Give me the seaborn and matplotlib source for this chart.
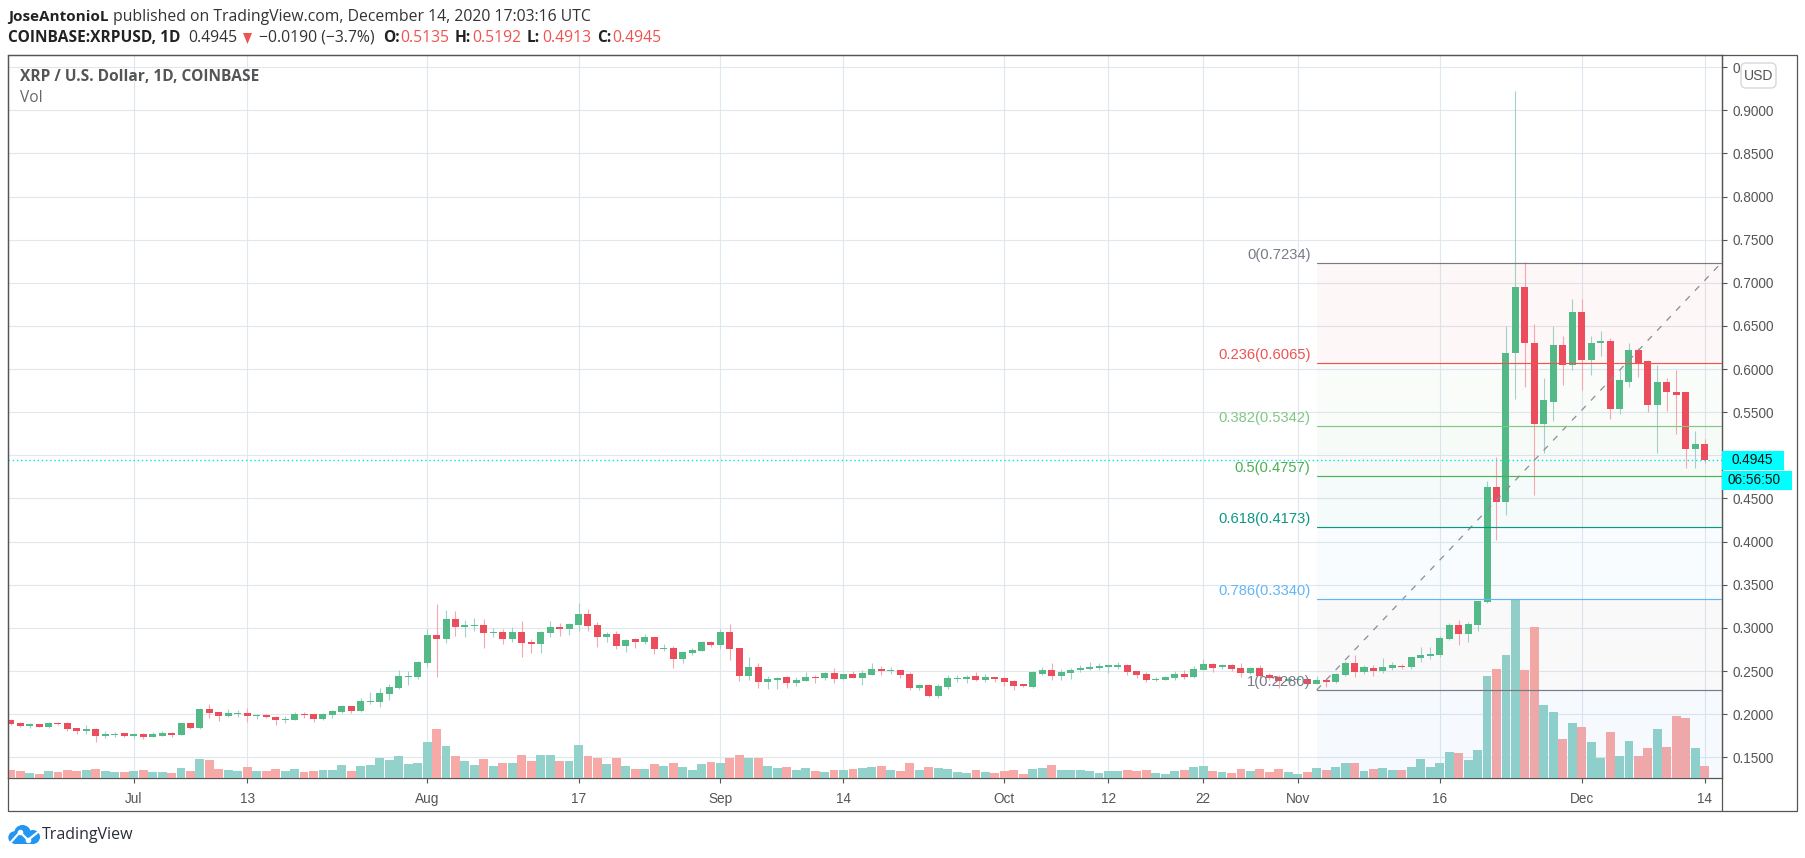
import matplotlib
matplotlib.use("Agg")
import matplotlib.dates as mdates
import matplotlib.pyplot as plt
import pandas as pd
import seaborn as sns
from matplotlib.patches import Circle, FancyBboxPatch, Polygon, Rectangle
from matplotlib.transforms import Affine2D

# daily candles, Jun 18 - Dec 14 2020, one row per month
opens = [
    .1933, .1898, .1863, .1886, .1852, .1898, .1898, .1840, .1805, .1828, .1747, .1759, .1782,
    .1747, .1770, .1736, .1747, .1782, .1759, .1898, .1840, .2060, .2026, .1979, .2002, .2014, .1979, .1991, .1968, .1933, .1933, .2002, .2002, .1944, .1991, .2026, .2095, .2037, .2141, .2141, .2234, .2304, .2431, .2431,
    .2594, .2918, .2872, .3104, .3011, .3022, .3034, .2941, .2953, .2872, .2953, .2837, .2814, .2941, .3011, .2988, .3034, .3162, .3034, .2895, .2930, .2791, .2872, .2837, .2895, .2756, .2767, .2640, .2709, .2733, .2837,
    .2802, .2953, .2767, .2443, .2547, .2373, .2396, .2431, .2362, .2385, .2431, .2420, .2478, .2408, .2466, .2420, .2454, .2520, .2497, .2508, .2462, .2300, .2335, .2207, .2311, .2404, .2404, .2439, .2393, .2427,
    .2416, .2381, .2346, .2311, .2462, .2508, .2439, .2474, .2508, .2520, .2532, .2543, .2543, .2566, .2497, .2462, .2393, .2393, .2416, .2462, .2427, .2508, .2578, .2543, .2566, .2532, .2474, .2532, .2451, .2427, .2381,
    .2393, .2404, .2346, .2396, .2373, .2454, .2594, .2489, .2536, .2501, .2536, .2559, .2547, .2651, .2675, .2686, .2872, .3034, .2930, .3034, .3301, .4634, .4460, .6181, .6957, .6308, .5369, .5624, .6274, .6053,
    .6656, .6111, .6297, .6320, .5532, .5856, .6227, .6088, .5578, .5845, .5740, .5729, .5068, .5135,
]
highs = [
    .1940, .1910, .1894, .1890, .1910, .1910, .1910, .1840, .1875, .1840, .1805, .1794, .1782,
    .1778, .1782, .1794, .1805, .1794, .1898, .1898, .2072, .2118, .2026, .2060, .2049, .2072, .1998, .1998, .1979, .1979, .2026, .2026, .2002, .2014, .2049, .2107, .2095, .2188, .2257, .2304, .2350, .2512, .2501, .2617,
    .2988, .3277, .3208, .3196, .3092, .3115, .3104, .2999, .2988, .3011, .3080, .2872, .2964, .3080, .3057, .3057, .3289, .3219, .3069, .2953, .2964, .2872, .2883, .2930, .2895, .2814, .2791, .2733, .2767, .2849, .2849,
    .2988, .3046, .2767, .2663, .2594, .2443, .2431, .2443, .2431, .2489, .2454, .2489, .2536, .2466, .2501, .2512, .2594, .2555, .2543, .2508, .2485, .2346, .2346, .2346, .2451, .2451, .2451, .2485, .2462, .2427,
    .2427, .2393, .2346, .2497, .2543, .2590, .2520, .2532, .2566, .2601, .2590, .2566, .2601, .2578, .2497, .2485, .2427, .2439, .2497, .2508, .2555, .2636, .2590, .2578, .2578, .2590, .2543, .2566, .2474, .2451, .2427,
    .2427, .2416, .2439, .2420, .2474, .2617, .2686, .2570, .2570, .2651, .2605, .2582, .2663, .2779, .2779, .2906, .3057, .3092, .3069, .3312, .4703, .4981, .6505, .9218, .7247, .6525, .5891, .6505, .6378, .6807,
    .6818, .6378, .6436, .6355, .5995, .6308, .6250, .6111, .6053, .5891, .5984, .5740, .5288, .5192,
]
lows = [
    .1880, .1856, .1844, .1848, .1844, .1875, .1809, .1770, .1770, .1678, .1724, .1740, .1736,
    .1724, .1713, .1736, .1747, .1736, .1759, .1828, .1828, .1956, .1921, .1968, .1968, .1910, .1944, .1956, .1875, .1898, .1933, .1956, .1910, .1933, .1956, .2014, .2014, .2026, .2118, .2083, .2165, .2292, .2338, .2408,
    .2547, .2431, .2825, .2906, .2895, .2964, .2767, .2895, .2814, .2837, .2663, .2709, .2709, .2895, .2906, .2918, .2964, .2964, .2779, .2837, .2756, .2721, .2767, .2814, .2698, .2733, .2536, .2594, .2686, .2733, .2779,
    .2756, .2628, .2385, .2396, .2304, .2292, .2292, .2304, .2327, .2385, .2362, .2396, .2362, .2396, .2420, .2338, .2454, .2451, .2462, .2416, .2277, .2277, .2196, .2184, .2288, .2369, .2358, .2381, .2369, .2369,
    .2323, .2277, .2311, .2300, .2451, .2393, .2393, .2404, .2485, .2508, .2508, .2474, .2520, .2451, .2416, .2369, .2381, .2393, .2393, .2404, .2416, .2508, .2485, .2520, .2497, .2427, .2462, .2427, .2393, .2300, .2369,
    .2381, .2335, .2346, .2315, .2362, .2443, .2431, .2466, .2443, .2478, .2512, .2524, .2524, .2605, .2640, .2663, .2860, .2802, .2837, .2964, .3289, .4019, .4309, .5648, .5798, .4541, .5029, .5393, .5821, .5995,
    .5752, .5926, .6146, .5416, .5474, .5798, .5903, .5497, .5033, .5509, .5253, .4848, .4859, .4913,
]
closes = [
    .1886, .1863, .1886, .1852, .1898, .1886, .1828, .1805, .1828, .1747, .1770, .1770, .1747,
    .1770, .1736, .1770, .1782, .1759, .1898, .1840, .2060, .2014, .1979, .2014, .2014, .1979, .1991, .1968, .1933, .1944, .2002, .1991, .1944, .2002, .2037, .2095, .2037, .2153, .2153, .2246, .2315, .2443, .2443, .2605,
    .2918, .2872, .3104, .3011, .3034, .3034, .2941, .2953, .2872, .2953, .2825, .2814, .2953, .3011, .2988, .3046, .3162, .3022, .2895, .2930, .2791, .2860, .2837, .2895, .2756, .2767, .2640, .2721, .2744, .2837, .2802,
    .2953, .2756, .2443, .2547, .2373, .2408, .2420, .2362, .2396, .2431, .2420, .2478, .2408, .2466, .2420, .2478, .2524, .2497, .2508, .2451, .2300, .2335, .2207, .2323, .2416, .2416, .2427, .2393, .2427, .2404,
    .2369, .2323, .2323, .2485, .2508, .2439, .2485, .2508, .2532, .2543, .2555, .2566, .2566, .2485, .2451, .2393, .2404, .2427, .2462, .2427, .2520, .2578, .2532, .2566, .2520, .2474, .2532, .2439, .2416, .2381, .2404,
    .2404, .2346, .2393, .2373, .2466, .2594, .2489, .2547, .2501, .2547, .2570, .2547, .2663, .2686, .2698, .2883, .3034, .2930, .3046, .3312, .4634, .4460, .6181, .6946, .6297, .5369, .5636, .6274, .6053, .6656,
    .6111, .6308, .6320, .5543, .5868, .6227, .6065, .5578, .5845, .5729, .5694, .5068, .5135, .4945,
]
volumes = [
    24, 21, 15, 12, 21, 18, 24, 21, 24, 27, 21, 18, 18,
    21, 24, 18, 18, 15, 30, 21, 57, 54, 27, 24, 21, 33, 21, 21, 27, 21, 27, 18, 21, 24, 24, 39, 21, 36, 39, 60, 54, 66, 42, 45,
    108, 147, 96, 66, 51, 39, 57, 36, 45, 45, 69, 51, 69, 69, 51, 51, 99, 66, 60, 42, 60, 36, 27, 27, 42, 36, 45, 33, 24, 42, 48,
    45, 60, 69, 60, 60, 36, 30, 33, 24, 30, 21, 18, 24, 24, 27, 30, 33, 36, 24, 21, 45, 24, 33, 30, 27, 18, 15, 24, 18, 15,
    21, 24, 12, 27, 30, 39, 24, 24, 24, 21, 15, 21, 21, 24, 21, 24, 15, 12, 21, 24, 33, 36, 21, 18, 15, 27, 21, 27, 18, 27, 18,
    12, 18, 30, 24, 33, 45, 45, 21, 27, 30, 24, 24, 33, 57, 33, 45, 78, 75, 54, 84, 306, 327, 369, 537, 324, 453, 219, 198, 117, 165,
    153, 108, 60, 138, 66, 111, 66, 90, 147, 93, 186, 180, 90, 36,
]

price_ticks = [.95, .90, .85, .80, .75, .70, .65, .60, .55, .50, .45, .40, .35, .30, .25, .20, .15]
date_ticks = ["2020-07-01", "2020-07-13", "2020-08-01", "2020-08-17", "2020-09-01", "2020-09-14",
              "2020-10-01", "2020-10-12", "2020-10-22", "2020-11-01", "2020-11-16", "2020-12-01", "2020-12-14"]
date_labels = ["Jul", "13", "Aug", "17", "Sep", "14", "Oct", "12", "22", "Nov", "16", "Dec", "14"]

fib_levels = ["0", "0.236", "0.382", "0.5", "0.618", "0.786", "1"]
fib_prices = [.7234, .6065, .5342, .4757, .4173, .3340, .2280]
fib_colors = ["#787b86", "#ef5350", "#81c784", "#4caf50", "#089981", "#64b5f6", "#787b86"]
fib_fills = ["#f23645", "#81c784", "#4caf50", "#089981", "#64b5f6", "#787b86", "#2196f3"]
last_price = 0.4945

GREEN, RED = "#53b987", "#eb4d5c"
GREEN_WICK, RED_WICK = "#a3cfc9", "#f7a5ae"
VOL_GREEN, VOL_RED = "#93d2ca", "#f7a9a7"
GRID = "#dfe8ef"
FRAME = "#555555"
TEXT = "#555555"

sns.set_theme(style="white")
plt.rcParams["font.family"] = ["Liberation Sans", "DejaVu Sans"]

df = pd.DataFrame({"date": pd.date_range("2020-06-18", "2020-12-14"), "open": opens, "high": highs,
                   "low": lows, "close": closes, "volume": volumes})
df["day"] = mdates.date2num(df["date"])
df["up"] = df["close"] >= df["open"]

fig = plt.figure(figsize=(18.05, 8.58), dpi=100, facecolor="white")
px = Affine2D().scale(1, -1).translate(0, 858)  # figure pixels, y down

L, R, T, B = 8, 1721.5, 55, 778
rect = [L / 1805, (858 - B) / 858, (R - L) / 1805, (B - T) / 858]
ax = fig.add_axes(rect, zorder=1)
vol_ax = ax.twinx()
top = ax.twinx()
vol_ax.set_zorder(2)
top.set_zorder(3)
for a in (vol_ax, top):
    a.patch.set_visible(False)
    a.axis("off")

jul1 = mdates.date2num(pd.Timestamp("2020-07-01"))
dec14 = mdates.date2num(pd.Timestamp("2020-12-14"))
per_day = (1704.7 - 133.7) / (dec14 - jul1)
xmin, xmax = jul1 - (133.7 - L) / per_day, dec14 + (R - 1704.7) / per_day
ymin, ymax = 0.15 - (B - 757.3) / 862.7, 0.15 + (757.3 - T) / 862.7

# volume pane
sns.barplot(data=df, x="day", y="volume", hue="up", native_scale=True, dodge=False, width=0.94, linewidth=0,
            palette={True: VOL_GREEN, False: VOL_RED}, saturation=1, legend=False, ax=vol_ax)
vol_ax.axis("off")
vol_ax.set_ylim(0, (B - T) * 3)

# fib retracement
fib_start = mdates.date2num(pd.Timestamp("2020-11-03"))
edges = fib_prices + [ymin]
for i, c in enumerate(fib_fills):
    top.fill_between([fib_start, xmax], edges[i + 1], edges[i], color=c, alpha=0.04, lw=0, zorder=1)

# candles
for up, wick, body in ((True, GREEN_WICK, GREEN), (False, RED_WICK, RED)):
    d = df[df["up"] == up]
    top.vlines(d["day"], d["low"], d["high"], color=wick, lw=0.8, zorder=2)
    top.bar(d["day"], (d["close"] - d["open"]).abs(), bottom=d[["open", "close"]].min(axis=1),
            width=0.74, color=body, lw=0, zorder=3)

top.plot([fib_start, xmax], [fib_prices[-1], fib_prices[0]], color="#8a8d96", lw=0.9, ls=(0, (5, 6)), zorder=4)
for level, price, c in zip(fib_levels, fib_prices, fib_colors):
    top.plot([fib_start, xmax], [price, price], color=c, lw=0.85, zorder=4)
    top.annotate(f"{level}({price:.4f})", xy=(fib_start, price), xytext=(-4.5, 5.8), textcoords="offset points",
                 ha="right", va="center", color=c, fontsize=10.6, zorder=5)
top.axhline(last_price, color="#00e5e5", lw=1, ls=(0, (1, 2)), zorder=4)

ax.set_yticks(price_ticks)
ax.set_yticklabels([f"{p:.4f}" for p in price_ticks])
ax.set_xticks(mdates.date2num(pd.to_datetime(date_ticks)))
ax.set_xticklabels(date_labels)
ax.yaxis.tick_right()
ax.grid(True, color=GRID, lw=0.8)
ax.tick_params(axis="both", length=3.6, width=0.8, color=FRAME, labelcolor=TEXT, labelsize=9.8)
ax.tick_params(axis="y", pad=4.5, right=True, left=False, labelright=True, labelleft=False)
ax.tick_params(axis="x", pad=6.5, bottom=True)
for s in ax.spines.values():
    s.set_color(FRAME)
    s.set_linewidth(0.9)
for a in (ax, vol_ax, top):
    a.set_xlim(xmin, xmax)
ax.set_ylim(ymin, ymax)
top.set_ylim(ymin, ymax)
ax.set_xlabel("")
ax.set_ylabel("")

# outer frame of the chart
fig.add_artist(Rectangle((L, T), 1796.5 - L, 811 - T, transform=px, fill=False, ec=FRAME, lw=0.9, zorder=6))
fig.add_artist(plt.Line2D([R, R], [T, 811], transform=px, color=FRAME, lw=0.9, zorder=6))

# price scale labels
fig.add_artist(Rectangle((R + 0.5, 451), 1783 - R, 19, transform=px, fc="#00ffff", ec="none", zorder=7))
fig.add_artist(Rectangle((R + 0.5, 471), 1791 - R, 19, transform=px, fc="#00ffff", ec="none", zorder=7))
fig.text(1732, 459.5, "0.4945", transform=px, color="#111111", fontsize=9.8, va="center", zorder=8)
fig.text(1727, 479.5, "06:56:50", transform=px, color="#111111", fontsize=9.8, va="center", zorder=8)
fig.add_artist(FancyBboxPatch((1741, 63), 35, 25, boxstyle="round,pad=0,rounding_size=5", transform=px,
                              fc="white", ec="#d6d8de", lw=1, zorder=7))
fig.text(1758.5, 76, "USD", transform=px, color=TEXT, fontsize=10, ha="center", va="center", zorder=8)

# header
HEAD = "Open Sans"
fig.text(8, 17, "JoseAntonioL", transform=px, family=HEAD, weight="bold", fontsize=11, color="#222222", va="center")
fig.text(113, 17, "published on TradingView.com, December 14, 2020 17:03:16 UTC", transform=px, family=HEAD,
         fontsize=11.3, color="#333333", va="center")
fig.text(8, 38, "COINBASE:XRPUSD, 1D", transform=px, family=HEAD, weight="bold", fontsize=11.2, color="#222222", va="center")
fig.text(188, 38, "0.4945", transform=px, family=HEAD, fontsize=11.3, color="#333333", va="center")
fig.add_artist(Polygon([(243, 33), (252, 33), (247.5, 44)], transform=px, fc="#ef5350", ec="none"))
fig.text(259, 38, "\u22120.0190 (\u22123.7%)", transform=px, family=HEAD, fontsize=11.3, color="#333333", va="center")
for x_key, key, x_val, val in ((383, "O:", 400, "0.5135"), (455, "H:", 472, "0.5192"),
                               (527, "L:", 542, "0.4913"), (597, "C:", 612, "0.4945")):
    fig.text(x_key, 38, key, transform=px, family=HEAD, weight="bold", fontsize=11.2, color="#222222", va="center")
    fig.text(x_val, 38, val, transform=px, family=HEAD, fontsize=11.3, color="#ef5350", va="center")

fig.text(19.5, 77, "XRP / U.S. Dollar, 1D, COINBASE", transform=px, family=HEAD, weight="bold", fontsize=11.2,
         color=TEXT, va="center", zorder=8)
fig.text(19.5, 98, "Vol", transform=px, family=HEAD, fontsize=11.2, color="#666666", va="center", zorder=8)

# logo
BLUE = "#2196f3"
for cx, cy, r in ((14.5, 837.5, 6.2), (22.5, 833.5, 8.5), (33, 837, 7)):
    fig.add_artist(Circle((cx, cy), r, transform=px, fc=BLUE, ec="none"))
fig.add_artist(Rectangle((14, 836), 20, 8, transform=px, fc=BLUE, ec="none"))
fig.add_artist(plt.Line2D([11, 20, 28, 38], [842, 832, 840, 832], transform=px, color="white", lw=1.6,
                          marker="o", markersize=3, markevery=[1, 2], markerfacecolor="white"))
fig.text(42, 835, "TradingView", transform=px, family=HEAD, fontsize=11.5, color="#2a2e39", va="center")

fig.savefig("out.png", dpi=100)
